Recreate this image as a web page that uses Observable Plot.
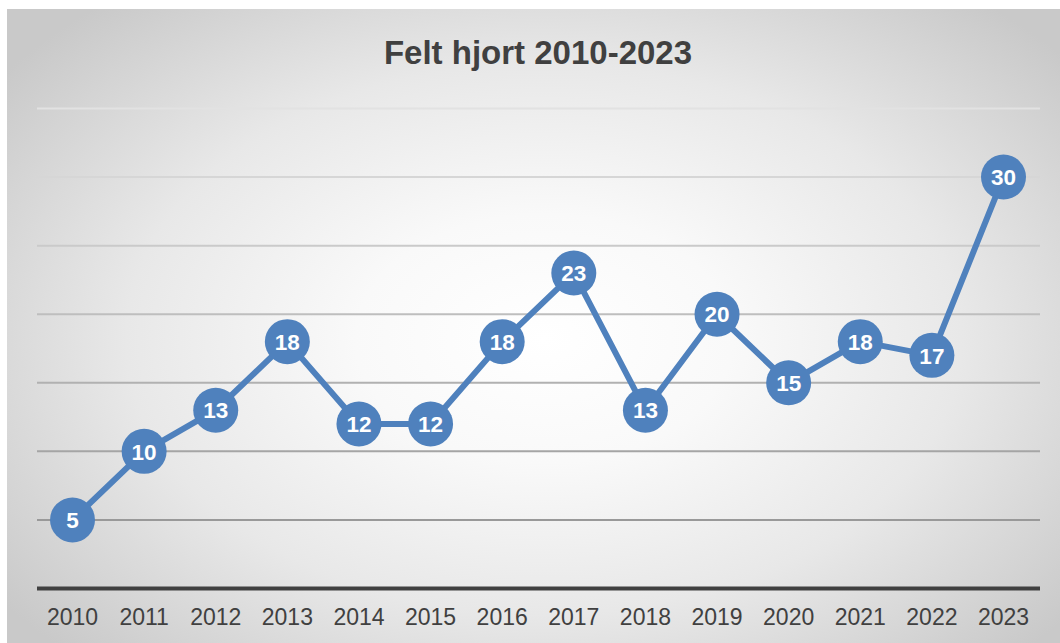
<!DOCTYPE html>
<html>
<head>
<meta charset="utf-8">
<script src="https://cdn.jsdelivr.net/npm/d3@7"></script>
<script src="https://cdn.jsdelivr.net/npm/@observablehq/plot@0.6"></script>
<style>
  html, body { margin: 0; padding: 0; background: #ffffff; width: 1060px; height: 643px; overflow: hidden; }
  #panel {
    position: absolute; left: 7px; top: 9px; width: 1053px; height: 634px; z-index: 0;
    background: radial-gradient(ellipse 64% 70% at 51% 52%, #ffffff 0%, #f9f9f9 28%, #e8e8e8 62%, #c9c9c9 100%);
  }
  #content { position: absolute; left: 0; top: 0; width: 1060px; height: 643px; z-index: 1; }
  #title {
    height: 90px; box-sizing: border-box; padding-top: 36px; line-height: 33px;
    text-align: center; font-family: "Liberation Sans", Arial, sans-serif; font-weight: bold;
    font-size: 33px; color: #404040; padding-left: 16px;
  }
  svg { display: block; background: transparent; }
</style>
</head>
<body>
<div id="panel"></div>
<div id="content">
  <div id="title">Felt hjort 2010-2023</div>
  <div id="chart"></div>
</div>
<script>
const years = [2010, 2011, 2012, 2013, 2014, 2015, 2016, 2017, 2018, 2019, 2020, 2021, 2022, 2023];
const felt = [5, 10, 13, 18, 12, 12, 18, 23, 13, 20, 15, 18, 17, 30];
const gridValues = [5, 10, 15, 20, 25, 30, 35];

const data = years.map((y, i) => ({year: y, value: felt[i]}));
const gridColor = d3.interpolateRgb("#999999", "#e2e2e2");

const gridMarks = gridValues.map(v =>
  Plot.ruleY([v], {stroke: gridColor((v - 5) / 30), strokeWidth: 2, insetLeft: -35, insetRight: -37})
);

const chart = Plot.plot({
  width: 1060,
  height: 553,
  marginLeft: 72,
  marginRight: 57,
  marginTop: 18,
  marginBottom: 55,
  style: {background: "transparent", fontFamily: "'Liberation Sans', Arial, sans-serif"},
  x: {domain: [2010, 2023], ticks: years, tickFormat: d => String(d), label: null},
  y: {domain: [0, 35], axis: null},
  marks: [
    ...gridMarks,
    Plot.ruleY([0], {stroke: "#404040", strokeWidth: 4, insetLeft: -35, insetRight: -37}),
    Plot.axisX({ticks: years, tickFormat: d => String(d), tickSize: 0, tickPadding: 20, fontSize: 23, color: "#404040", label: null}),
    Plot.line(data, {x: "year", y: "value", stroke: "#4f81bd", strokeWidth: 6, strokeLinejoin: "round"}),
    Plot.dot(data, {x: "year", y: "value", r: 22.5, fill: "#4f81bd", stroke: "none"}),
    Plot.text(data, {x: "year", y: "value", text: d => String(d.value), fill: "#ffffff", fontSize: 22.5, fontWeight: "bold", dy: 1})
  ]
});
document.getElementById("chart").appendChild(chart);
</script>
</body>
</html>
